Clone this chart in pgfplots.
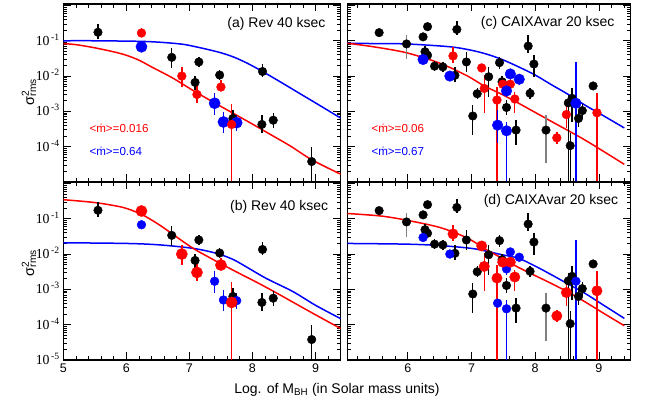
\documentclass[border=0pt]{standalone}
\usepackage{pgfplots}
\pgfplotsset{compat=1.18}
\usepackage{pgfplotstable}
\usepackage{fontspec}
\setmainfont{Liberation Sans}
\newfontfamily\serifnum{Liberation Serif}

% ---------------- Rev sample, 40 ksec ----------------
\pgfplotstableread{
x y lo hi
5.55 1.74e-1 1.10e-1 2.95e-1
6.72 3.39e-2 1.66e-2 6.31e-2
7.15 2.51e-2 1.82e-2 3.55e-2
7.09 6.61e-3 3.98e-3 1.00e-2
7.48 1.07e-2 7.76e-3 1.48e-2
7.69 6.31e-4 3.31e-4 1.10e-3
8.16 1.35e-2 9.12e-3 2.19e-2
8.15 4.27e-4 2.51e-4 7.76e-4
8.33 5.62e-4 3.47e-4 9.12e-4
8.94 3.80e-5 1.00e-6 1.00e-4
}\revblack
\pgfplotstableread{
x y lo hi
6.24 1.66e-1 1.26e-1 2.24e-1
6.88 1.00e-2 4.79e-3 1.82e-2
7.12 3.02e-3 1.78e-3 5.62e-3
7.50 4.90e-3 3.89e-3 7.76e-3
7.67 4.27e-4 1.00e-6 1.62e-3
}\revred
\pgfplotstableread{
x y lo hi
6.24 6.76e-2 5.62e-2 7.94e-2
7.40 1.70e-3 7.94e-4 3.24e-3
7.54 5.01e-4 2.40e-4 9.77e-4
7.75 4.79e-4 2.82e-4 7.94e-4
}\revblue

% ---------------- CAIXAvar sample, 20 ksec ----------------
\pgfplotstableread{
x y lo hi
5.55 1.70e-1 1.41e-1 2.04e-1
6.24 1.29e-1 1.07e-1 1.55e-1
6.31 2.51e-1 2.09e-1 3.02e-1
6.27 4.90e-2 3.47e-2 6.92e-2
6.31 3.89e-2 3.09e-2 4.90e-2
6.42 1.91e-2 1.38e-2 2.63e-2
6.55 1.82e-2 1.32e-2 2.51e-2
6.74 1.05e-2 6.92e-3 1.82e-2
6.77 2.09e-1 1.45e-1 3.72e-1
6.92 2.51e-2 1.32e-2 4.90e-2
7.02 7.41e-4 2.14e-4 1.51e-3
7.09 3.16e-3 2.24e-3 4.47e-3
7.27 9.55e-3 2.51e-3 1.78e-2
7.44 2.40e-2 1.62e-2 3.55e-2
7.48 6.92e-3 4.68e-3 1.02e-2
7.55 1.29e-3 7.94e-4 2.09e-3
7.70 2.95e-4 1.12e-4 5.62e-4
7.89 7.08e-2 4.37e-2 1.45e-1
7.98 2.19e-2 9.55e-3 3.98e-2
7.92 3.24e-3 2.29e-3 4.57e-3
8.52 1.74e-3 1.00e-6 2.82e-3
8.58 2.34e-3 5.01e-4 4.47e-3
8.55 1.07e-4 1.00e-6 2.51e-4
8.68 6.31e-4 3.55e-4 1.12e-3
8.74 1.05e-3 6.61e-4 1.66e-3
8.91 5.25e-3 4.17e-3 6.61e-3
}\caixablack
\pgfplotstableread{
x y lo hi
5.98 8.13e-2 2.95e-2 1.45e-1
8.17 2.95e-4 3.39e-5 7.94e-4
}\caixagrey
\pgfplotstableread{
x y lo hi
6.71 3.72e-2 2.29e-2 6.76e-2
7.16 1.70e-2 1.41e-2 2.04e-2
7.20 4.47e-3 8.91e-4 1.07e-2
7.40 2.09e-3 1.00e-6 5.01e-3
7.49 5.89e-3 4.68e-3 7.41e-3
7.61 5.89e-3 4.17e-3 8.32e-3
7.68 2.24e-3 8.71e-4 3.63e-3
8.34 1.78e-4 1.20e-4 2.63e-4
8.49 8.13e-4 3.31e-4 1.51e-3
8.97 9.12e-4 1.00e-6 3.24e-3
}\caixared
\pgfplotstableread{
x y lo hi
6.24 2.95e-2 2.45e-2 3.55e-2
6.66 1.00e-2 7.94e-3 1.26e-2
7.41 4.07e-4 1.26e-4 1.10e-3
7.55 2.82e-4 1.00e-6 5.01e-4
7.55 3.80e-3 2.51e-3 6.31e-3
7.61 1.15e-2 9.12e-3 1.45e-2
7.75 8.13e-3 6.46e-3 1.02e-2
8.64 1.70e-3 1.00e-6 2.51e-2
}\caixablue

% ---------------- model curves ----------------
\pgfplotstableread{
x y
5.0 1.00e-1
5.5 1.00e-1
6.0 9.77e-2
6.3 9.55e-2
6.6 8.91e-2
6.9 7.94e-2
7.1 6.76e-2
7.3 5.62e-2
7.5 4.57e-2
7.7 3.47e-2
7.9 2.40e-2
8.1 1.55e-2
8.4 7.59e-3
8.7 3.63e-3
9.0 1.74e-3
9.4 6.46e-4
}\fitAblue
\pgfplotstableread{
x y
5.0 8.32e-2
5.2 7.76e-2
5.47 6.46e-2
5.79 4.90e-2
6.0 3.89e-2
6.2 2.82e-2
6.42 1.74e-2
6.74 8.71e-3
7.06 3.89e-3
7.4 1.74e-3
7.7 8.71e-4
8.0 4.37e-4
8.3 2.14e-4
8.6 1.05e-4
8.94 4.27e-5
9.4 1.66e-5
}\fitAred
\pgfplotstableread{
x y
5.0 2.09e-2
6.0 2.00e-2
6.53 1.82e-2
7.06 1.45e-2
7.43 1.05e-2
7.69 7.08e-3
7.90 4.37e-3
8.22 2.04e-3
8.64 8.71e-4
9.0 3.55e-4
9.4 1.48e-4
}\fitBblue
\pgfplotstableread{
x y
5.0 3.47e-1
5.5 2.88e-1
5.9 2.19e-1
6.1 1.70e-1
6.3 1.17e-1
6.53 6.61e-2
6.8 3.02e-2
7.06 1.45e-2
7.32 7.94e-3
7.59 4.37e-3
7.85 2.51e-3
8.11 1.45e-3
8.4 7.59e-4
8.7 3.80e-4
9.0 1.91e-4
9.4 7.76e-5
}\fitBred
\pgfplotstableread{
x y
5.05 8.51e-2
5.5 8.32e-2
5.98 8.13e-2
6.66 6.76e-2
7.0 5.37e-2
7.24 4.17e-2
7.48 2.95e-2
7.74 1.82e-2
8.0 1.07e-2
8.26 5.62e-3
8.52 3.02e-3
8.78 1.51e-3
9.05 7.94e-4
9.4 3.39e-4
}\fitCblue
\pgfplotstableread{
x y
5.05 8.51e-2
5.46 6.76e-2
5.98 4.57e-2
6.51 2.29e-2
6.93 1.02e-2
7.2 5.25e-3
7.48 3.02e-3
7.74 1.70e-3
8.26 5.13e-4
8.78 1.55e-4
9.4 3.16e-5
}\fitCred
\pgfplotstableread{
x y
5.05 2.00e-2
5.98 1.91e-2
6.51 1.74e-2
7.0 1.45e-2
7.24 1.20e-2
7.48 9.55e-3
7.74 7.59e-3
8.0 4.57e-3
8.26 2.57e-3
8.52 1.41e-3
8.78 7.76e-4
9.05 3.80e-4
9.4 1.51e-4
}\fitDblue
\pgfplotstableread{
x y
5.05 1.41e-1
5.57 1.20e-1
5.98 9.12e-2
6.51 5.62e-2
6.93 2.88e-2
7.2 1.45e-2
7.48 7.59e-3
7.74 4.17e-3
8.0 2.45e-3
8.26 1.45e-3
8.52 8.32e-4
8.78 4.47e-4
9.05 2.24e-4
9.4 9.33e-5
}\fitDred

\newcommand{\dec}[1]{10\textsuperscript{\,#1}}

\pgfplotsset{
  sigframe/.style={
    scale only axis, anchor=south west, height=178pt,
    ytick={1e-5,1e-4,1e-3,1e-2,1e-1,1},
    minor ytick={2e-5,3e-5,4e-5,5e-5,6e-5,7e-5,8e-5,9e-5,
      2e-4,3e-4,4e-4,5e-4,6e-4,7e-4,8e-4,9e-4,
      2e-3,3e-3,4e-3,5e-3,6e-3,7e-3,8e-3,9e-3,
      2e-2,3e-2,4e-2,5e-2,6e-2,7e-2,8e-2,9e-2,
      0.2,0.3,0.4,0.5,0.6,0.7,0.8,0.9},
    minor xtick={5.2,5.4,5.6,5.8,6.2,6.4,6.6,6.8,7.2,7.4,7.6,7.8,8.2,8.4,8.6,8.8,9.2,9.4},
    xtick pos=both, ytick pos=both, tick align=inside,
    major tick length=7.5pt, minor tick length=4pt,
    tick style={black, line width=0.7pt},
    axis line style={line width=1.1pt},
    xticklabel style={font=\fontsize{12.5}{14}\selectfont},
    yticklabel style={font=\serifnum\fontsize{13.8}{15}\selectfont, anchor=base east, yshift=-4.6pt},
  },
  sigleft/.style={width=277.4pt, xmin=5, xmax=9.4, xtick={5,6,7,8,9}},
  sigright/.style={width=283.4pt, xmin=5.05, xmax=9.5, xtick={6,7,8,9}, yticklabels={}},
  sigcurve/.style={line width=1.5pt, no marks, smooth},
  sigdots/.style={only marks, mark=*,
    error bars/y dir=both, error bars/y explicit, error bars/error mark=none},
}

\begin{document}
\begin{tikzpicture}[x=1pt, y=1pt]
\useasboundingbox (0,0) rectangle (648,403);

% (a) Rev 40 ksec
\begin{axis}[ymode=log, ymin=1e-5, ymax=1.1, sigframe, sigleft, at={(63.3pt,221pt)}, xticklabels={},
  yticklabels={{},{\dec{-4}},{\dec{-3}},{\dec{-2}},{\dec{-1}},{}}]
  \addplot[sigcurve, blue] table[x=x, y=y]{\fitAblue};
  \addplot[sigcurve, red] table[x=x, y=y]{\fitAred};
  \addplot[sigdots, black, mark size=4.3pt, error bars/error bar style={draw=black, line width=1.4pt}]
    table[x=x, y=y, y error plus expr=\thisrow{hi}-\thisrow{y}, y error minus expr=\thisrow{y}-\thisrow{lo}]{\revblack};
  \addplot[sigdots, blue, mark size=5.6pt, error bars/error bar style={draw=blue, line width=1.4pt}]
    table[x=x, y=y, y error plus expr=\thisrow{hi}-\thisrow{y}, y error minus expr=\thisrow{y}-\thisrow{lo}]{\revblue};
  \addplot[sigdots, red, mark size=4.4pt, error bars/error bar style={draw=red, line width=1.5pt}]
    table[x=x, y=y, y error plus expr=\thisrow{hi}-\thisrow{y}, y error minus expr=\thisrow{y}-\thisrow{lo}]{\revred};
\end{axis}

% (b) Rev 40 ksec
\begin{axis}[ymode=log, ymin=1e-5, ymax=1.1, sigframe, sigleft, at={(63.3pt,43pt)}, xticklabels={5,6,7,8,9},
  yticklabels={{\dec{-5}},{\dec{-4}},{\dec{-3}},{\dec{-2}},{\dec{-1}},{}}]
  \addplot[sigcurve, blue] table[x=x, y=y]{\fitBblue};
  \addplot[sigcurve, red] table[x=x, y=y]{\fitBred};
  \addplot[sigdots, black, mark size=4.3pt, error bars/error bar style={draw=black, line width=1.4pt}]
    table[x=x, y=y, y error plus expr=\thisrow{hi}-\thisrow{y}, y error minus expr=\thisrow{y}-\thisrow{lo}]{\revblack};
  \addplot[sigdots, blue, mark size=4.4pt, error bars/error bar style={draw=blue, line width=1.4pt}]
    table[x=x, y=y, y error plus expr=\thisrow{hi}-\thisrow{y}, y error minus expr=\thisrow{y}-\thisrow{lo}]{\revblue};
  \addplot[sigdots, red, mark size=5.6pt, error bars/error bar style={draw=red, line width=1.5pt}]
    table[x=x, y=y, y error plus expr=\thisrow{hi}-\thisrow{y}, y error minus expr=\thisrow{y}-\thisrow{lo}]{\revred};
\end{axis}

% (c) CAIXAvar 20 ksec
\begin{axis}[ymode=log, ymin=1e-5, ymax=1.1, sigframe, sigright, at={(347.3pt,221pt)}, xticklabels={}]
  \addplot[sigcurve, blue] table[x=x, y=y]{\fitCblue};
  \addplot[sigcurve, red] table[x=x, y=y]{\fitCred};
  \addplot[sigdots, black, mark size=4.3pt, error bars/error bar style={draw=black, line width=1.4pt}]
    table[x=x, y=y, y error plus expr=\thisrow{hi}-\thisrow{y}, y error minus expr=\thisrow{y}-\thisrow{lo}]{\caixablack};
  \addplot[sigdots, black, mark size=4.3pt, error bars/error bar style={draw=gray, line width=1.4pt}]
    table[x=x, y=y, y error plus expr=\thisrow{hi}-\thisrow{y}, y error minus expr=\thisrow{y}-\thisrow{lo}]{\caixagrey};
  \addplot[sigdots, red, mark size=4.4pt, error bars/error bar style={draw=red, line width=1.4pt}]
    table[x=x, y=y, y error plus expr=\thisrow{hi}-\thisrow{y}, y error minus expr=\thisrow{y}-\thisrow{lo}]{\caixared};
  \addplot[sigdots, blue, mark size=5.3pt, error bars/error bar style={draw=blue, line width=1.4pt}]
    table[x=x, y=y, y error plus expr=\thisrow{hi}-\thisrow{y}, y error minus expr=\thisrow{y}-\thisrow{lo}]{\caixablue};
\end{axis}

% (d) CAIXAvar 20 ksec
\begin{axis}[ymode=log, ymin=1e-5, ymax=1.1, sigframe, sigright, at={(347.3pt,43pt)}, xticklabels={6,7,8,9}]
  \addplot[sigcurve, blue] table[x=x, y=y]{\fitDblue};
  \addplot[sigcurve, red] table[x=x, y=y]{\fitDred};
  \addplot[sigdots, black, mark size=4.3pt, error bars/error bar style={draw=black, line width=1.4pt}]
    table[x=x, y=y, y error plus expr=\thisrow{hi}-\thisrow{y}, y error minus expr=\thisrow{y}-\thisrow{lo}]{\caixablack};
  \addplot[sigdots, black, mark size=4.3pt, error bars/error bar style={draw=gray, line width=1.4pt}]
    table[x=x, y=y, y error plus expr=\thisrow{hi}-\thisrow{y}, y error minus expr=\thisrow{y}-\thisrow{lo}]{\caixagrey};
  \addplot[sigdots, blue, mark size=4.4pt, error bars/error bar style={draw=blue, line width=1.4pt}]
    table[x=x, y=y, y error plus expr=\thisrow{hi}-\thisrow{y}, y error minus expr=\thisrow{y}-\thisrow{lo}]{\caixablue};
  \addplot[sigdots, red, mark size=5.2pt, error bars/error bar style={draw=red, line width=1.4pt}]
    table[x=x, y=y, y error plus expr=\thisrow{hi}-\thisrow{y}, y error minus expr=\thisrow{y}-\thisrow{lo}]{\caixared};
\end{axis}

% panel titles
\node[anchor=east, font=\fontsize{14}{16}\selectfont] at (329,379) {(a) Rev 40 ksec};
\node[anchor=east, font=\fontsize{14}{16}\selectfont] at (331.7,195.7) {(b) Rev 40 ksec};
\node[anchor=east, font=\fontsize{14}{16}\selectfont] at (618,380.3) {(c) CAIXAvar 20 ksec};
\node[anchor=east, font=\fontsize{14}{16}\selectfont] at (621.7,202.3) {(d) CAIXAvar 20 ksec};

% mean accretion rates
\node[anchor=west, red, font=\fontsize{11.6}{13}\selectfont] at (86,274.7) {<ṁ>=0.016};
\node[anchor=west, blue, font=\fontsize{11.6}{13}\selectfont] at (86,251.3) {<ṁ>=0.64};
\node[anchor=west, red, font=\fontsize{11.6}{13}\selectfont] at (368,274.7) {<ṁ>=0.06};
\node[anchor=west, blue, font=\fontsize{11.6}{13}\selectfont] at (368,251.3) {<ṁ>=0.67};

% axis labels
\node[rotate=90, font=\fontsize{14.5}{16}\selectfont] at (29,311) {σ\rlap{\textsuperscript{2}}\textsubscript{rms}};
\node[rotate=90, font=\fontsize{14.5}{16}\selectfont] at (29,140) {σ\rlap{\textsuperscript{2}}\textsubscript{rms}};
\node[anchor=base, font=\fontsize{14}{16}\selectfont] at (337,9.7) {Log. of M\textsubscript{BH} (in Solar mass units)};
\end{tikzpicture}
\end{document}
